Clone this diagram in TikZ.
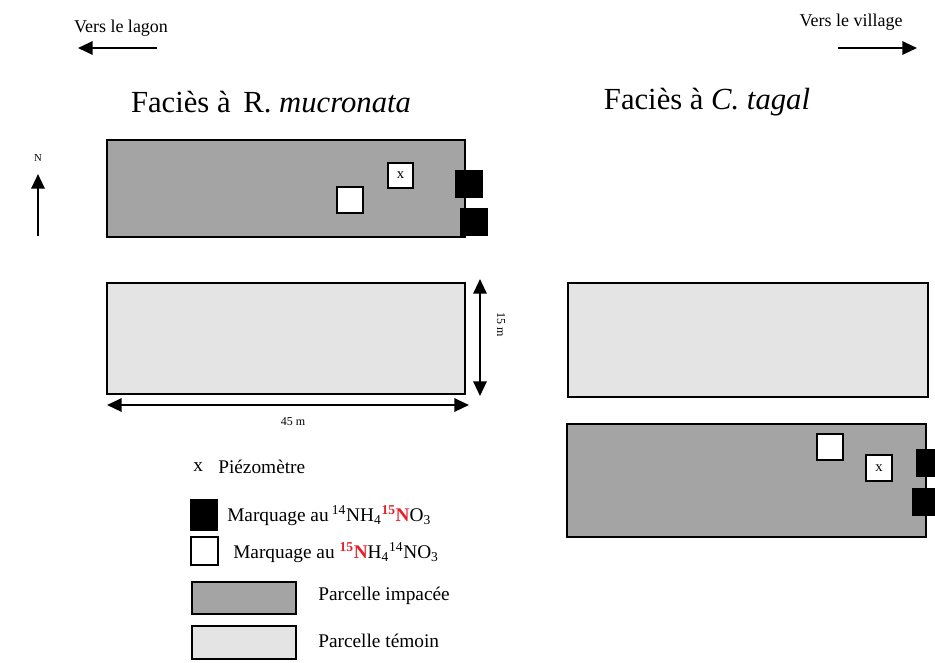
\documentclass[tikz,border=0pt]{standalone}
\usepackage{fontspec}
\setmainfont{Liberation Serif}
\usetikzlibrary{arrows.meta}
\definecolor{impact}{HTML}{A4A4A4}
\definecolor{temoin}{HTML}{E4E4E4}
\definecolor{isored}{HTML}{E5202A}
\newcommand{\isoN}{{\color{isored}\textbf{\textsuperscript{15}N}}}
\begin{document}
\begin{tikzpicture}[x=0.75pt,y=-0.75pt]
\tikzset{
  plot/.style={draw=black, line width=1.3pt, anchor=north west, inner sep=0pt, outer sep=0pt},
  blacksq/.style={fill=black, draw=black, inner sep=0pt, outer sep=0pt, minimum size=27*0.75pt, anchor=north west},
  whitesq/.style={fill=white, draw=black, line width=1.1pt, inner sep=0pt, outer sep=0pt, minimum size=26*0.75pt, anchor=north west},
  arr/.style={line width=1.6pt, -{Triangle[length=11pt,width=10pt]}},
  dimarr/.style={line width=1.6pt, {Triangle[length=11pt,width=10pt]}-{Triangle[length=11pt,width=10pt]}},
  small/.style={font=\fontsize{13.5}{15}\selectfont, inner sep=0pt},
  title/.style={font=\fontsize{23}{26}\selectfont, inner sep=0pt},
  legend/.style={font=\fontsize{14.5}{16}\selectfont, inner sep=0pt, anchor=west}
}
\useasboundingbox (0,0) rectangle (935,662);

% directions
\node[small] (lagon) at (121,28) {Vers le lagon};
\coordinate (lagonS) at (157,48);
\coordinate (lagonE) at (78,48);
\draw[arr] (lagonS) -- (lagonE);
\node[small] (village) at (851,22) {Vers le village};
\coordinate (villageS) at (838,48);
\coordinate (villageE) at (917,48);
\draw[arr] (villageS) -- (villageE);

% titles
\node[title] (t1) at (271,102) {Faciès à \,R. \textit{mucronata}};
\node[title] (t2) at (707,102) {Faciès à \textit{C. tagal}};

% north
\node[font=\fontsize{8}{9}\selectfont, inner sep=0pt] (N) at (38,158) {N};
\coordinate (Nbot) at (38,236);
\coordinate (Ntop) at (38,174);
\draw[arr] (Nbot) -- (Ntop);

% left plots
\node[plot, fill=impact, minimum width=358*0.75pt, minimum height=97*0.75pt] (L1) at (107,140) {};
\node[whitesq] (w1) at (337,187) {};
\node[whitesq, minimum size=25*0.75pt] (p1) at (388,163) {\fontsize{11}{12}\selectfont x};
\node[blacksq] (b1) at (455,170) {};
\node[blacksq] (b2) at (460,208) {};

\node[plot, fill=temoin, minimum width=358*0.75pt, minimum height=111*0.75pt] (L2) at (107,283) {};

% dimensions
\coordinate (d15a) at (480,279);
\coordinate (d15b) at (480,396);
\draw[dimarr] (d15a) -- (d15b);
\node[small, rotate=-90, font=\fontsize{9}{10}\selectfont] (l15) at (501,325) {15 m};
\coordinate (d45a) at (107,405);
\coordinate (d45b) at (469,405);
\draw[dimarr] (d45a) -- (d45b);
\node[small, font=\fontsize{9}{10}\selectfont] (l45) at (293,422) {45 m};

% right plots
\node[plot, fill=temoin, minimum width=360*0.75pt, minimum height=114*0.75pt] (R1) at (568,283) {};
\node[plot, fill=impact, minimum width=359*0.75pt, minimum height=113*0.75pt] (R2) at (567,424) {};
\node[whitesq] (w2) at (817,434) {};
\node[whitesq] (p2) at (866,455) {\fontsize{11}{12}\selectfont x};
\node[blacksq] (b3) at (916,449) {};
\node[blacksq] (b4) at (912,488) {};

% legend
\node[legend] (lx) at (193,467) {x};
\node[legend] (lp) at (218,467) {Piézomètre};
\node[blacksq, minimum width=27*0.75pt, minimum height=31*0.75pt] (lb) at (190,499) {};
\node[legend] (lbt) at (227,516) {Marquage au\,\textsuperscript{14}NH\textsubscript{4}\isoN O\textsubscript{3}};
\node[whitesq, minimum width=27*0.75pt, minimum height=28*0.75pt] (lw) at (191,537) {};
\node[legend] (lwt) at (233,553) {Marquage au \isoN H\textsubscript{4}\textsuperscript{14}NO\textsubscript{3}};
\node[plot, fill=impact, minimum width=104*0.75pt, minimum height=32*0.75pt] (li) at (192,582) {};
\node[legend] (lit) at (318,596) {Parcelle impacée};
\node[plot, fill=temoin, minimum width=104*0.75pt, minimum height=33*0.75pt] (lt) at (192,626) {};
\node[legend] (ltt) at (318,641) {Parcelle témoin};
\end{tikzpicture}
\end{document}
